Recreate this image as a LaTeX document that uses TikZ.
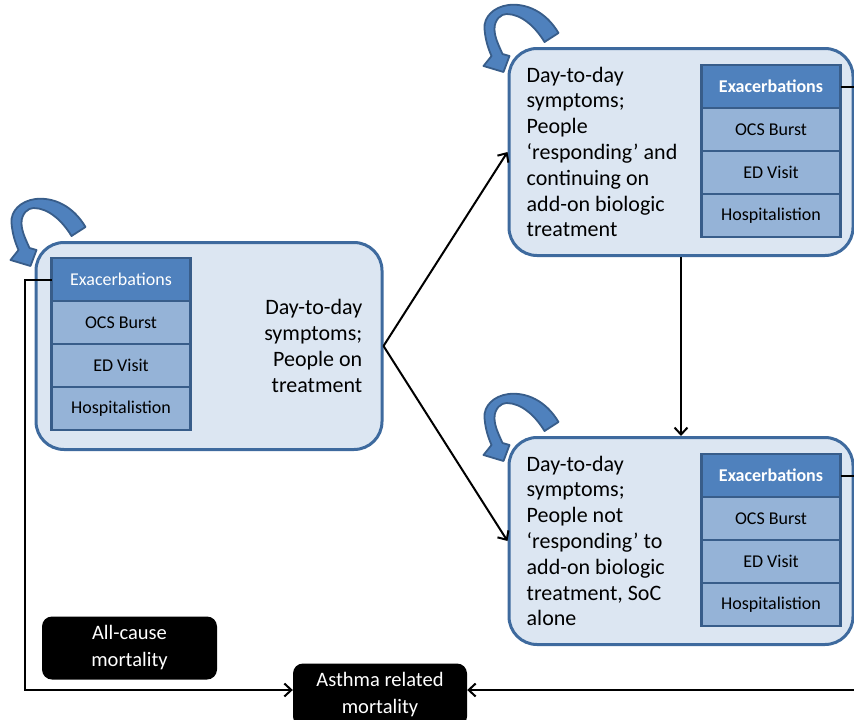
\documentclass[tikz,border=0pt]{standalone}
\usepackage{fontspec}
\setmainfont{Carlito}
\usetikzlibrary{positioning,arrows.meta}
\definecolor{boxfill}{HTML}{DCE6F2}
\definecolor{boxline}{HTML}{3E6A9E}
\definecolor{exacfill}{HTML}{4F81BD}
\definecolor{cellfill}{HTML}{95B3D7}
\definecolor{cellline}{HTML}{385D8A}
\tikzset{
  state/.style={draw=boxline, fill=boxfill, line width=3pt, rounded corners=28pt,
    minimum height=207pt, minimum width=344pt},
  cell/.style={draw=cellline, fill=cellfill, line width=2.5pt, minimum width=139pt,
    minimum height=43pt, inner sep=0pt, outer sep=0pt, font=\fontsize{18}{21}\selectfont},
  head/.style={cell, fill=exacfill, text=white},
  statetext/.style={inner sep=0pt, font=\fontsize{22}{25.8}\selectfont},
  death/.style={fill=black, text=white, rounded corners=10pt, minimum width=175pt,
    minimum height=63pt, align=center, inner sep=0pt, font=\fontsize{20.5}{27}\selectfont},
  flow/.style={line width=2pt, -{Straight Barb[length=7pt,width=13pt]}},
  link/.style={line width=2pt},
  loopy/.style={fill=exacfill, draw=cellline, line width=1.8pt, line join=round}
}
% curved block arrow at the top left corner of a state
\newcommand{\selfloop}[1]{%
  \draw[loopy, shift={(#1)}] (37,-5) -- (51,-14)
    .. controls (38,-36) and (18,-44) .. (1,-42)
    .. controls (-14,-40) and (-24,-30) .. (-23,-18)
    .. controls (-22,-6) and (-19,2) .. (-16,9)
    -- (-24,19) -- (-4,25) -- (2,9) -- (-5,7)
    .. controls (-9,-2) and (-13,-10) .. (-13,-18)
    .. controls (-13,-28) and (-6,-33) .. (-1,-33)
    .. controls (14,-33) and (28,-20) .. cycle;}
\begin{document}
\begin{tikzpicture}[x=1pt, y=-1pt]
  \useasboundingbox (0,0) rectangle (854,720);
  \clip (0,0) rectangle (854,720);
  % states
  \node[state, minimum width=346pt] (b1) at (209,346) {};
  \node[state] (b2) at (681,152) {};
  \node[state] (b3) at (681,541) {};
  \node[statetext, align=right, left=21pt of b1.east] (t1)
    {Day-to-day\\symptoms;\\People on\\treatment};
  \node[statetext, align=left, right=19pt of b2.west] (t2)
    {Day-to-day\\symptoms;\\People\\`responding' and\\continuing on\\add-on biologic\\treatment};
  \node[statetext, align=left, right=19pt of b3.west] (t3)
    {Day-to-day\\symptoms;\\People not\\`responding' to\\add-on biologic\\treatment, SoC\\alone};
  % events
  \node[head, below right=17pt and 17pt of b1.north west] (e1) {Exacerbations};
  \node[cell, below=0pt of e1] (o1) {OCS Burst};
  \node[cell, below=0pt of o1] (d1) {ED Visit};
  \node[cell, below=0pt of d1] (h1) {Hospitalistion};
  \node[head, below left=18pt and 14pt of b2.north east] (e2) {\textbf{Exacerbations}};
  \node[cell, below=0pt of e2] (o2) {OCS Burst};
  \node[cell, below=0pt of o2] (d2) {ED Visit};
  \node[cell, below=0pt of d2] (h2) {Hospitalistion};
  \node[head, below left=18pt and 14pt of b3.north east] (e3) {\textbf{Exacerbations}};
  \node[cell, below=0pt of e3] (o3) {OCS Burst};
  \node[cell, below=0pt of o3] (d3) {ED Visit};
  \node[cell, below=0pt of d3] (h3) {Hospitalistion};
  \selfloop{b1.north west}
  \selfloop{b2.north west}
  \selfloop{b3.north west}
  % deaths
  \node[death] (m1) at (129.5,648) {All-cause\\mortality};
  \node[death, minimum width=174pt] (m2) at (380,695) {Asthma related\\mortality};
  \coordinate (lc) at (25,690);
  \coordinate (rc) at (880,690);
  % transitions
  \draw[flow] (b1.east) -- (b2.west);
  \draw[flow] (b1.east) -- (b3.west);
  \draw[flow] (b2.south) -- (b3.north);
  \draw[flow] (e1.west) -| (lc) -- (lc -| m2.west);
  \draw[flow] (e2.east) -| (rc) -- (rc -| m2.east);
  \draw[link] (e3.east) -- (e3.east -| rc);
\end{tikzpicture}
\end{document}
